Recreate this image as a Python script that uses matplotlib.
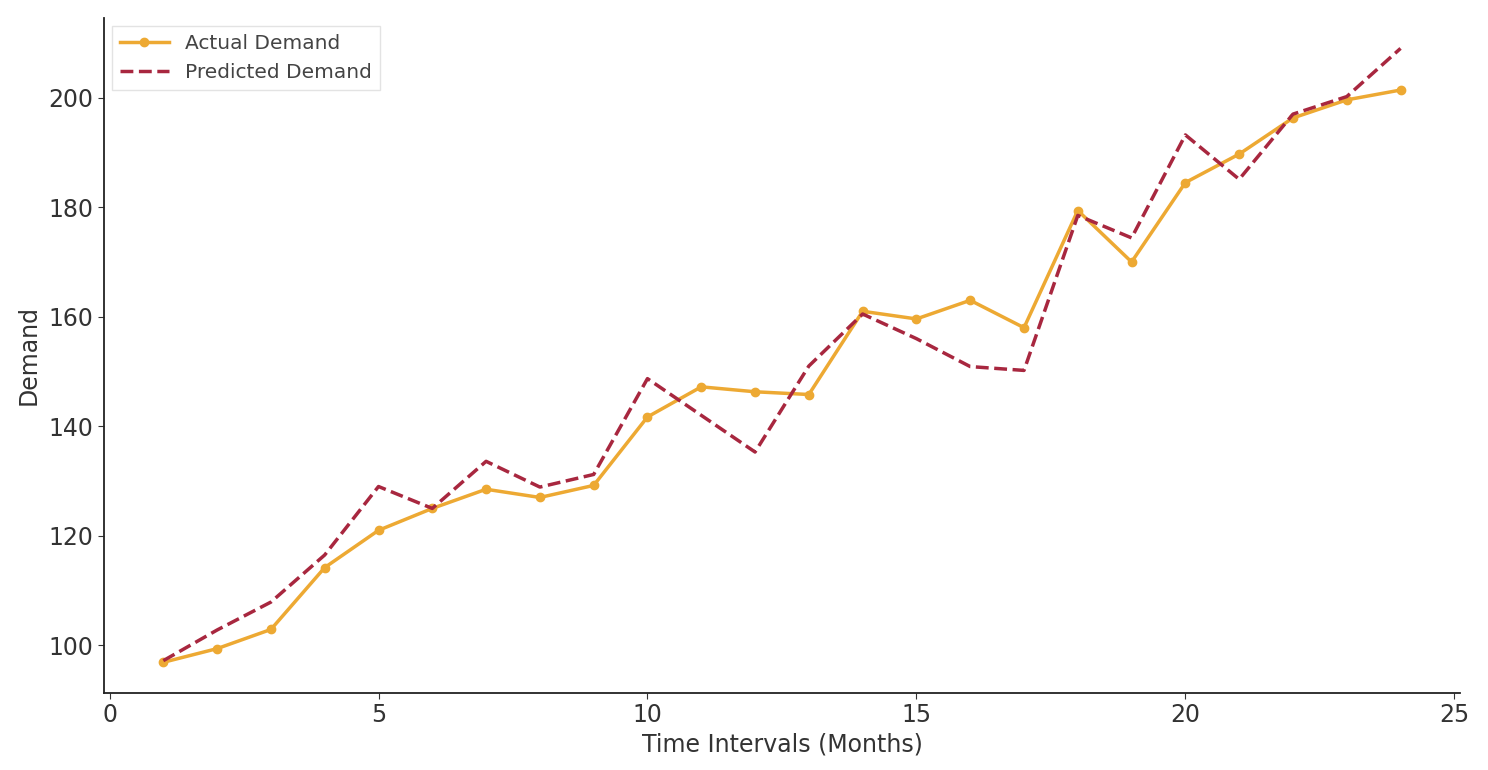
import numpy as np
import matplotlib.pyplot as plt

months = np.arange(1, 25)
actual = [96.9, 99.4, 102.9, 114.2, 121.0, 125.0, 128.5, 127.0, 129.2, 141.7,
          147.2, 146.3, 145.8, 161.0, 159.6, 163.0, 158.0, 179.4, 170.0, 184.5,
          189.7, 196.3, 199.6, 201.4]
predicted = [97.2, 102.8, 107.9, 116.5, 129.0, 125.0, 133.6, 128.9, 131.2, 148.7,
             142.0, 135.3, 151.0, 160.5, 156.0, 150.9, 150.2, 178.5, 174.4, 193.2,
             185.1, 197.0, 200.2, 209.0]

fig = plt.figure(figsize=(14.88, 7.7), dpi=100)
ax = fig.add_axes([0.07, 0.1, 0.911, 0.877])

ax.plot(months, actual, color="#EDA933", lw=2.5, marker="o", ms=6,
        label="Actual Demand")
ax.plot(months, predicted, color="#A8273F", lw=2.5, ls="--",
        label="Predicted Demand")

ax.set_xlim(-0.1, 25.1)
ax.set_xticks([0, 5, 10, 15, 20, 25])
ax.set_yticks([100, 120, 140, 160, 180, 200])
ax.set_xlabel("Time Intervals (Months)", fontsize=17, color="#333333", labelpad=4)
ax.set_ylabel("Demand", fontsize=17, color="#333333", labelpad=6)
ax.tick_params(labelsize=17, colors="#333333", length=4)
for s in ["top", "right"]:
    ax.spines[s].set_visible(False)
for s in ["left", "bottom"]:
    ax.spines[s].set_linewidth(1.3)
    ax.spines[s].set_color("#222222")

leg = ax.legend(loc="upper left", fontsize=14.5, frameon=True, fancybox=False,
                borderaxespad=0.4, handlelength=2.4)
leg.get_frame().set_edgecolor("#dddddd")
for t in leg.get_texts():
    t.set_color("#444444")

fig.savefig("out.png", dpi=100)
